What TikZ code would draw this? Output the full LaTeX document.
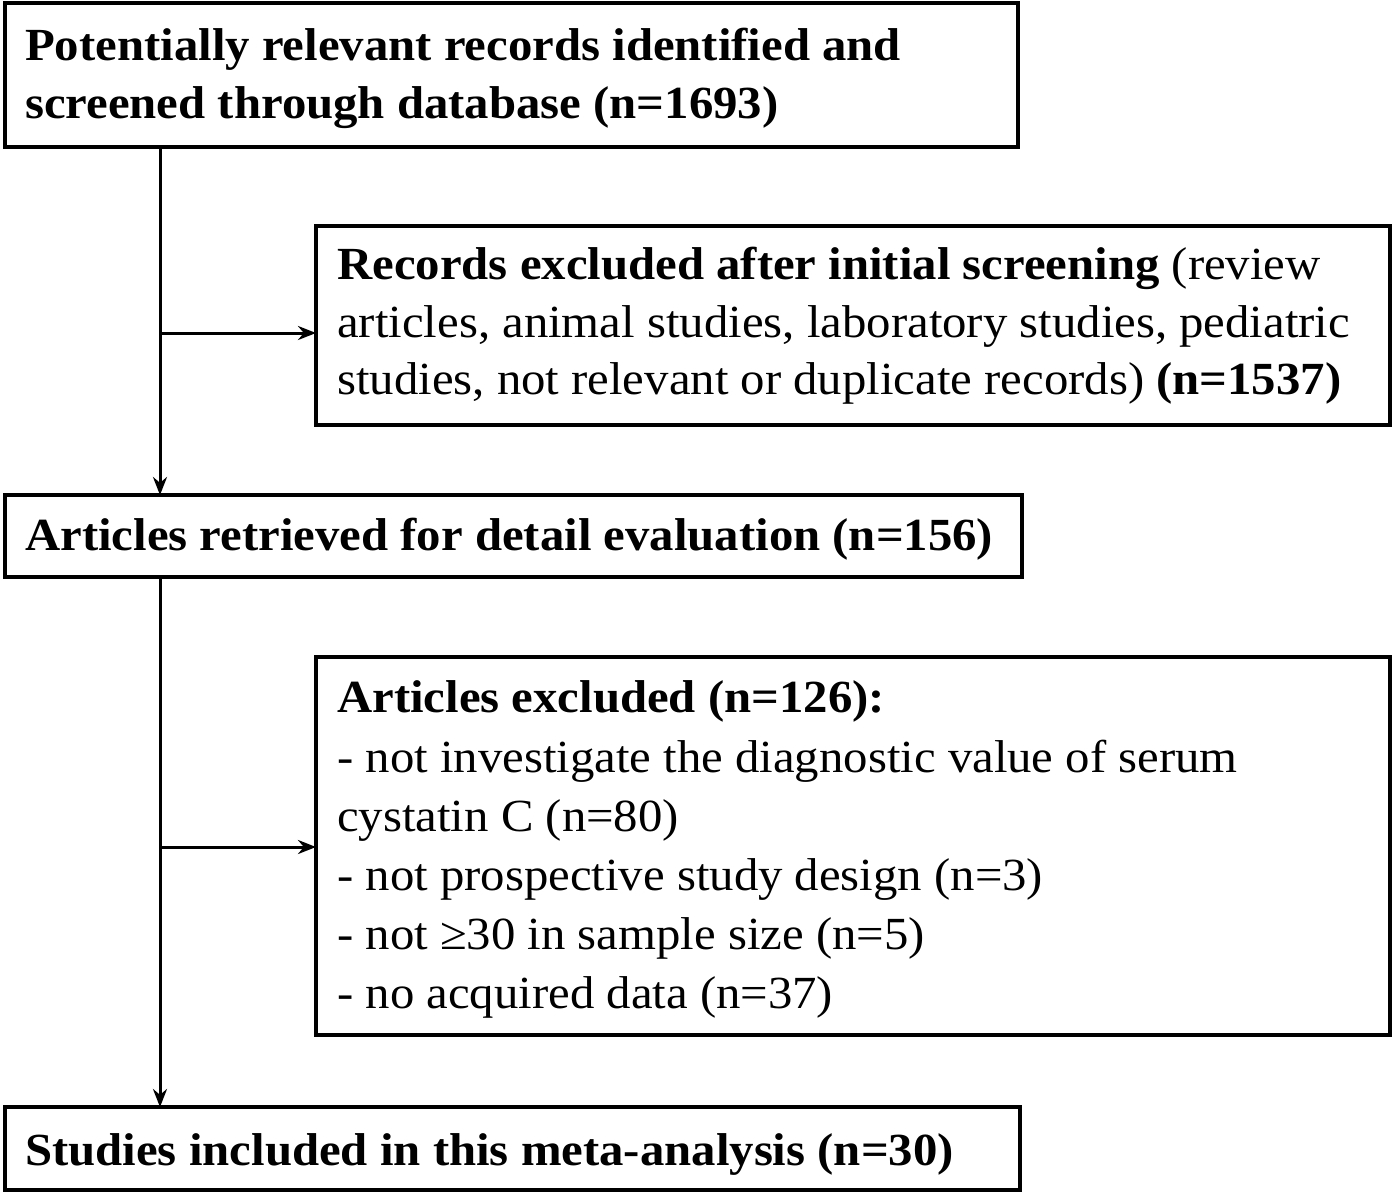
\documentclass[tikz,border=0pt]{standalone}
\usepackage{fontspec}
\setmainfont[FakeStretch=1.06]{Liberation Serif}
\usetikzlibrary{arrows.meta}
\begin{document}
\begin{tikzpicture}[x=1pt,y=-1pt,
 box/.style={draw,line width=3.5pt},
 txt/.style={anchor=base west,inner sep=0pt,font=\fontsize{46}{58}\selectfont},
 conn/.style={line width=3pt,-{Stealth[length=18pt,width=14pt]}}]
\useasboundingbox (0,0) rectangle (1395,1195);
\draw[box] (5,3) rectangle (1018,147);
\coordinate (b1) at (160,147);
\node[txt] (t1a) at (25,60) {\textbf{Potentially relevant records identified and}};
\node[txt] (t1b) at (25,118) {\textbf{screened through database (n=1693)}};
\draw[box] (316,226) rectangle (1390,425);
\coordinate (b2) at (316,333);
\node[txt] (t2a) at (337,279) {\textbf{Records excluded after initial screening} (review};
\node[txt] (t2b) at (337,337) {articles, animal studies, laboratory studies, pediatric};
\node[txt] (t2c) at (337,394) {studies, not relevant or duplicate records) \textbf{(n=1537)}};
\draw[box] (5,495) rectangle (1022,577);
\coordinate (b3t) at (160,495);
\coordinate (b3b) at (160,577);
\node[txt] (t3) at (25,550) {\textbf{Articles retrieved for detail evaluation (n=156)}};
\draw[box] (316,657) rectangle (1390,1035);
\coordinate (b4) at (316,847);
\node[txt] (t4a) at (337,712) {\textbf{Articles excluded (n=126):}};
\node[txt] (t4b) at (337,772) {- not investigate the diagnostic value of serum};
\node[txt] (t4c) at (337,831) {cystatin C (n=80)};
\node[txt] (t4d) at (337,890) {- not prospective study design (n=3)};
\node[txt] (t4e) at (337,949) {- not ≥30 in sample size (n=5)};
\node[txt] (t4f) at (337,1008) {- no acquired data (n=37)};
\draw[box] (5,1107) rectangle (1020,1190);
\coordinate (b5) at (160,1107);
\node[txt] (t5) at (25,1165) {\textbf{Studies included in this meta-analysis (n=30)}};
\coordinate (j1) at (160,333);
\coordinate (j2) at (160,847);
\draw[conn] (b1) -- (b3t);
\draw[conn] (j1) -- (b2);
\draw[conn] (b3b) -- (b5);
\draw[conn] (j2) -- (b4);
\end{tikzpicture}
\end{document}
